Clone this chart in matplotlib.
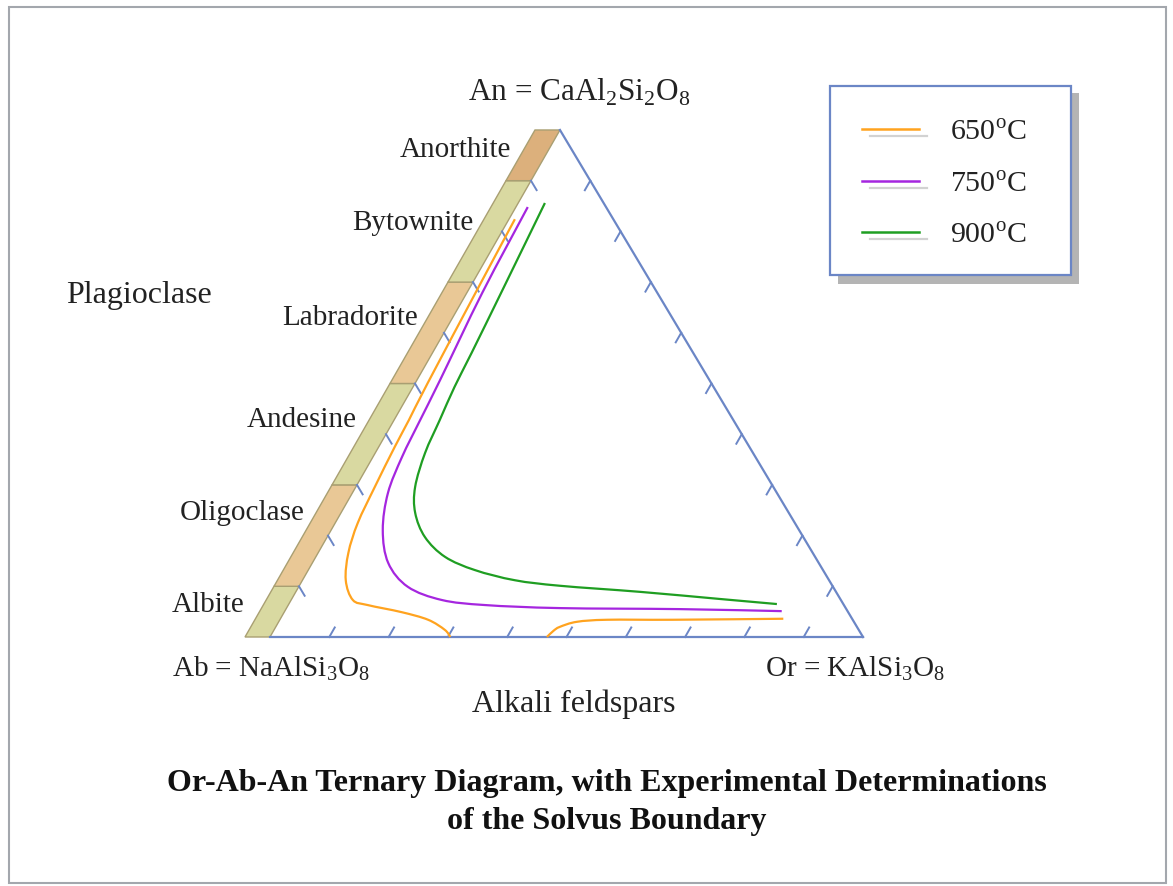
import numpy as np
import matplotlib.pyplot as plt
from matplotlib.patches import Polygon, Rectangle, PathPatch
from matplotlib.path import Path
from matplotlib.lines import Line2D

plt.rcParams['font.family'] = ['Liberation Serif', 'DejaVu Serif']
plt.rcParams['mathtext.fontset'] = 'custom'
plt.rcParams['mathtext.rm'] = 'Liberation Serif'

# plagioclase series, An content boundaries (%)
plag_names = ['Albite', 'Oligoclase', 'Andesine', 'Labradorite', 'Bytownite', 'Anorthite']
plag_bounds = [0, 10, 30, 50, 70, 90, 100]
plag_colors = ['#d9d9a1', '#e9c896', '#d9d9a1', '#e9c896', '#d9d9a1', '#dcb07c']

# solvus curves (An %, Or %)
temps = ['650', '750', '900']
curve_colors = ['#ffa31f', '#a526df', '#1f9e22']

an_650 = [82.4, 69.8, 50.1, 42.8, 37.5, 29.6, 22.5, 16.6, 11.2, 7.3, 6.3, 4.9, 3.4, 1.4, 0.0]
or_650 = [1.0, 1.4, 2.1, 2.5, 2.7, 3.2, 3.8, 5.1, 7.3, 10.4, 13.4, 19.8, 25.0, 28.8, 30.4]
# second (K-rich) branch of the 650 C solvus
an_650k = [0.0, 1.2, 2.0, 3.0, 3.4, 3.4, 3.6]
or_650k = [46.7, 47.2, 47.9, 50.3, 55.2, 66.3, 84.8]

an_750 = [84.8, 67.9, 50.7, 42.8, 35.5, 28.4, 21.1, 14.6, 9.9, 7.3, 6.3, 5.7, 5.5, 5.1]
or_750 = [2.0, 2.6, 3.9, 4.4, 4.9, 6.0, 8.7, 12.8, 18.4, 25.4, 33.2, 46.1, 66.4, 83.8]

an_900 = [85.6, 69.0, 56.0, 49.3, 42.8, 36.3, 29.6, 24.5, 19.7, 15.8, 13.2, 11.2, 10.1, 8.9, 7.5, 6.5]
or_900 = [4.5, 5.7, 6.6, 7.0, 7.7, 8.4, 10.0, 12.5, 16.5, 21.8, 28.1, 35.8, 44.0, 58.1, 72.2, 82.3]

tick_pcts = [10, 20, 30, 40, 50, 60, 70, 80, 90]

W, H = 1173, 886
# triangle corners (Ab at origin), slightly skewed like the original drawing
OR = np.array([1.0, 0.0])
AN = np.array([0.489, 0.855])
BLUE = '#6b86c6'


def tern(or_pct, an_pct):
    o = np.asarray(or_pct, dtype=float) / 100.0
    a = np.asarray(an_pct, dtype=float) / 100.0
    return o * OR[0] + a * AN[0], o * OR[1] + a * AN[1]


def fpos(px, py):
    # pixel position in the picture -> figure fraction
    return px / W, 1 - py / H


def smooth_path(x, y):
    # Catmull-Rom style bezier through the read points
    P = np.column_stack([x, y])
    Q = np.vstack([P[0], P, P[-1]])
    verts, codes = [P[0]], [Path.MOVETO]
    for i in range(len(P) - 1):
        p0, p1, p2, p3 = Q[i], Q[i + 1], Q[i + 2], Q[i + 3]
        verts += [p1 + (p2 - p0) / 6, p2 - (p3 - p1) / 6, p2]
        codes += [Path.CURVE4] * 3
    return Path(verts, codes)


fig = plt.figure(figsize=(W / 100, H / 100), dpi=100)
ax = fig.add_axes([0, 0, 1, 1])
ax.set_xlim(-270 / 593, 903 / 593)
ax.set_ylim((637 - 886) / 593, 637 / 593)
ax.axis('off')

# plagioclase band along the Ab-An edge
shift = -25 / 593
for i, name in enumerate(plag_names):
    x0, y0 = tern(0, plag_bounds[i])
    x1, y1 = tern(0, plag_bounds[i + 1])
    ax.add_patch(Polygon([(x0, y0), (x1, y1), (x1 + shift, y1), (x0 + shift, y0)],
                         closed=True, facecolor=plag_colors[i], edgecolor='#a99f72',
                         lw=1.0, zorder=2))

# triangle sides
bx, by = tern([0, 100, 0], [0, 0, 100])
ax.plot(bx[:2], by[:2], color=BLUE, lw=1.6, zorder=3)
ax.plot(bx[1:], by[1:], color=BLUE, lw=1.6, zorder=3)

# ticks
L = 11 / 593
u_an = AN / np.linalg.norm(AN)
u_r = (OR - AN) / np.linalg.norm(OR - AN)
for p in tick_pcts:
    for start, d in [(tern(p, 0), u_an), (tern(0, p), u_r), (tern(100 - p, p), -u_an)]:
        sx, sy = float(start[0]), float(start[1])
        ax.plot([sx, sx + L * d[0]], [sy, sy + L * d[1]], color=BLUE, lw=1.4, zorder=3)

# solvus curves
curves = [[(or_650, an_650), (or_650k, an_650k)], [(or_750, an_750)], [(or_900, an_900)]]
for parts, c in zip(curves, curve_colors):
    for o, a in parts:
        x, y = tern(o, a)
        ax.add_patch(PathPatch(smooth_path(x, y), facecolor='none', edgecolor=c,
                               lw=1.6, capstyle='butt', zorder=4))

txt = dict(fontsize=21, color='#222222', va='baseline', ha='left')
big = dict(txt, fontsize=23)
fig.text(*fpos(468, 101), r'An = CaAl$_2$Si$_2$O$_8$', **dict(txt, fontsize=22.5))
fig.text(*fpos(172, 676), r'Ab = NaAlSi$_3$O$_8$', **txt)
fig.text(*fpos(765, 676), r'Or = KAlSi$_3$O$_8$', **txt)
fig.text(*fpos(472, 712), 'Alkali feldspars', **big)
fig.text(*fpos(66, 303), 'Plagioclase', **big)

label_pos = [(172, 612), (180, 520), (247, 427), (282, 325), (352, 230), (400, 157)]
for name, (px, py) in zip(plag_names, label_pos):
    fig.text(*fpos(px, py), name, **txt)

fig.text(*fpos(607, 791), 'Or-Ab-An Ternary Diagram, with Experimental Determinations',
         fontsize=23, fontweight='bold', ha='center', va='baseline', color='#111111')
fig.text(*fpos(607, 829), 'of the Solvus Boundary',
         fontsize=23, fontweight='bold', ha='center', va='baseline', color='#111111')

# legend box with drop shadow
def frect(px0, py0, px1, py1, **kw):
    return Rectangle((px0 / W, 1 - py1 / H), (px1 - px0) / W, (py1 - py0) / H,
                     transform=fig.transFigure, **kw)

fig.add_artist(frect(838, 93, 1079, 284, facecolor='#b4b4b4', edgecolor='none', zorder=5))
fig.add_artist(frect(830, 86, 1071, 275, facecolor='white', edgecolor=BLUE, lw=1.6, zorder=6))
for i, (t, c) in enumerate(zip(temps, curve_colors)):
    ly = 129 + 51.5 * i
    fig.add_artist(Line2D([870 / W, 927 / W], [1 - (ly + 7) / H] * 2, color='#d2d2d2',
                          lw=1.6, transform=fig.transFigure, zorder=7))
    fig.add_artist(Line2D([862 / W, 919 / W], [1 - ly / H] * 2, color=c,
                          lw=1.8, transform=fig.transFigure, zorder=8))
    fig.text(*fpos(950, ly + 12), t + r'$^{\mathrm{o}}$C', zorder=9, **dict(txt, fontsize=21.5))

# outer frame
fig.add_artist(frect(9, 7, 1166, 883, facecolor='none', edgecolor='#a3a7ad', lw=1.5, zorder=1))

fig.savefig('out.png', dpi=100)
